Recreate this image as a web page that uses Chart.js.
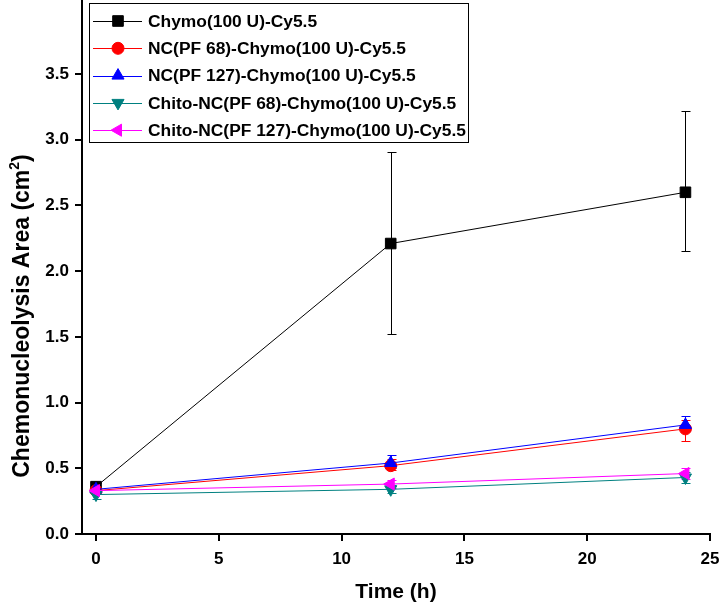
<!DOCTYPE html>
<html>
<head>
<meta charset="utf-8">
<script src="https://cdn.jsdelivr.net/npm/chart.js@4"></script>
<style>
    html, body { margin: 0; padding: 0; background: #fff; }
    #wrap { position: relative; width: 726px; height: 606px; }
</style>
</head>
<body>
<div id="wrap"><canvas id="chart" width="726" height="606"></canvas></div>
<script>
// Data
const timeHours = [0, 12, 24];
const xTickValues = [0, 5, 10, 15, 20, 25];
const yTickValues = [0, 0.5, 1.0, 1.5, 2.0, 2.5, 3.0, 3.5];

const seriesNames = [
    'Chymo(100 U)-Cy5.5',
    'NC(PF 68)-Chymo(100 U)-Cy5.5',
    'NC(PF 127)-Chymo(100 U)-Cy5.5',
    'Chito-NC(PF 68)-Chymo(100 U)-Cy5.5',
    'Chito-NC(PF 127)-Chymo(100 U)-Cy5.5'
];

const chymo = [0.36, 2.21, 2.60];
const chymoErrUp = [0.03, 0.70, 0.62];
const chymoErrDown = [0.03, 0.69, 0.45];

const ncPf68 = [0.33, 0.52, 0.80];
const ncPf68ErrUp = [0.02, 0.05, 0.07];
const ncPf68ErrDown = [0.02, 0.03, 0.09];

const ncPf127 = [0.34, 0.54, 0.83];
const ncPf127ErrUp = [0.02, 0.06, 0.07];
const ncPf127ErrDown = [0.02, 0.04, 0.05];

const chitoPf68 = [0.30, 0.34, 0.43];
const chitoPf68ErrUp = [0.03, 0.03, 0.04];
const chitoPf68ErrDown = [0.03, 0.03, 0.04];

const chitoPf127 = [0.33, 0.38, 0.46];
const chitoPf127ErrUp = [0.02, 0.03, 0.04];
const chitoPf127ErrDown = [0.02, 0.03, 0.04];

const FONT = '"Liberation Sans", Arial, sans-serif';

const styles = [
    { color: '#000000', point: 'rect', rotation: 0, radius: 7.5 },
    { color: '#ff0000', point: 'circle', rotation: 0, radius: 6 },
    { color: '#0000ff', point: 'triangle', rotation: 0, radius: 7 },
    { color: '#008080', point: 'triangle', rotation: 180, radius: 7 },
    { color: '#ff00ff', point: 'triangle', rotation: -90, radius: 7 }
];

const values = [chymo, ncPf68, ncPf127, chitoPf68, chitoPf127];
const errUp = [chymoErrUp, ncPf68ErrUp, ncPf127ErrUp, chitoPf68ErrUp, chitoPf127ErrUp];
const errDown = [chymoErrDown, ncPf68ErrDown, ncPf127ErrDown, chitoPf68ErrDown, chitoPf127ErrDown];

const datasets = values.map((vals, i) => ({
    label: seriesNames[i],
    data: timeHours.map((t, j) => ({ x: t, y: vals[j] })),
    borderColor: styles[i].color,
    backgroundColor: styles[i].color,
    borderWidth: 1,
    pointStyle: styles[i].point,
    pointRotation: styles[i].rotation,
    pointRadius: styles[i].radius,
    pointBorderWidth: 1,
    order: 4 - i,
    errUp: errUp[i],
    errDown: errDown[i]
}));

// Error bars drawn with the chart's own scales
const errorBars = {
    id: 'errorBars',
    beforeDatasetsDraw(chart) {
        const { ctx, scales: { x, y } } = chart;
        ctx.save();
        ctx.lineWidth = 1;
        chart.data.datasets.forEach(ds => {
            ctx.strokeStyle = ds.borderColor;
            ds.data.forEach((p, j) => {
                const px = Math.round(x.getPixelForValue(p.x)) + 0.5;
                const top = Math.round(y.getPixelForValue(p.y + ds.errUp[j])) + 0.5;
                const bot = Math.round(y.getPixelForValue(p.y - ds.errDown[j])) + 0.5;
                ctx.beginPath();
                ctx.moveTo(px, top); ctx.lineTo(px, bot);
                ctx.moveTo(px - 4, top); ctx.lineTo(px + 5, top);
                ctx.moveTo(px - 4, bot); ctx.lineTo(px + 5, bot);
                ctx.stroke();
            });
        });
        ctx.restore();
    }
};

// Boxed legend inside the plot and the axis titles
const decorations = {
    id: 'decorations',
    afterDraw(chart) {
        const ctx = chart.ctx;
        ctx.save();

        // legend box
        ctx.strokeStyle = '#000';
        ctx.lineWidth = 1;
        ctx.strokeRect(89.5, 3.5, 379, 139);
        ctx.font = 'bold 17.4px ' + FONT;
        ctx.textBaseline = 'middle';
        chart.data.datasets.forEach((ds, i) => {
            const yc = 21 + i * 27.3;
            ctx.strokeStyle = ds.borderColor;
            ctx.beginPath();
            ctx.moveTo(93, Math.round(yc) + 0.5);
            ctx.lineTo(142, Math.round(yc) + 0.5);
            ctx.stroke();
            ctx.fillStyle = ds.backgroundColor;
            Chart.helpers.drawPoint(ctx, {
                pointStyle: ds.pointStyle,
                rotation: ds.pointRotation,
                radius: ds.pointRadius,
                borderWidth: 1
            }, 118, yc);
            ctx.fillStyle = '#000';
            ctx.fillText(ds.label, 148, yc + 1);
        });

        // x title
        ctx.fillStyle = '#000';
        ctx.font = 'bold 21px ' + FONT;
        ctx.textAlign = 'center';
        ctx.textBaseline = 'alphabetic';
        ctx.fillText('Time (h)', 396, 598);

        // y title with superscript
        ctx.translate(29, 316);
        ctx.rotate(-Math.PI / 2);
        const main = 'Chemonucleolysis Area (cm';
        ctx.font = 'bold 23px ' + FONT;
        const wMain = ctx.measureText(main).width;
        const wClose = ctx.measureText(')').width;
        ctx.font = 'bold 14px ' + FONT;
        const wSup = ctx.measureText('2').width;
        const total = wMain + wSup + wClose;
        let cx = -total / 2;
        ctx.textAlign = 'left';
        ctx.font = 'bold 23px ' + FONT;
        ctx.fillText(main, cx, 0);
        cx += wMain;
        ctx.font = 'bold 14px ' + FONT;
        ctx.fillText('2', cx, -10);
        cx += wSup;
        ctx.font = 'bold 23px ' + FONT;
        ctx.fillText(')', cx, 0);

        ctx.restore();
    }
};

new Chart(document.getElementById('chart'), {
    type: 'line',
    data: { datasets },
    options: {
        responsive: false,
        animation: false,
        layout: { autoPadding: false, padding: { top: 0, right: 16, left: 0, bottom: 0 } },
        plugins: { legend: { display: false }, tooltip: { enabled: false } },
        scales: {
            x: {
                type: 'linear',
                min: -0.57,
                max: 25,
                afterBuildTicks: s => { s.ticks = xTickValues.map(v => ({ value: v })); },
                afterFit: s => { s.height = 72; s.paddingLeft = 0; s.paddingRight = 0; },
                border: { display: true, color: '#000', width: 2 },
                grid: { drawOnChartArea: false, drawTicks: true, tickLength: 7, color: '#000', lineWidth: 2 },
                ticks: { color: '#000', font: { family: FONT, size: 17, weight: 'bold' }, padding: 8, maxRotation: 0 }
            },
            y: {
                type: 'linear',
                min: 0,
                max: 4.063,
                afterBuildTicks: s => { s.ticks = yTickValues.map(v => ({ value: v })); },
                afterFit: s => { s.width = 82; s.paddingTop = 0; s.paddingBottom = 0; },
                border: { display: true, color: '#000', width: 2 },
                grid: { drawOnChartArea: false, drawTicks: true, tickLength: 7, color: '#000', lineWidth: 2 },
                ticks: {
                    color: '#000',
                    font: { family: FONT, size: 17, weight: 'bold' },
                    padding: 6,
                    callback: v => Number(v).toFixed(1)
                }
            }
        }
    },
    plugins: [errorBars, decorations]
});
</script>
</body>
</html>
